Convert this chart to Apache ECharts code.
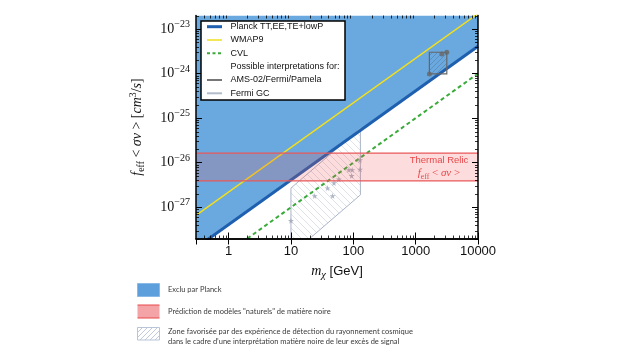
<!DOCTYPE html>
<html><head><meta charset="utf-8">
<script src="https://cdn.jsdelivr.net/npm/echarts@6/dist/echarts.min.js"></script>
<style>html,body{margin:0;padding:0;background:#fff}#c{width:622px;height:355px}</style>
</head><body><div id="c"></div>
<script>
// ---- data ----
const xRange = [0.3, 10000];
const yRange = [2e-28, 2e-23];
const planckLine = [[0.3, 1.23e-28], [10000, 4.1e-24]];
const wmap9Line = [[0.3, 6.6e-28], [10000, 2.2e-23]];
const cvlLine = [[0.3, 3.0e-29], [10000, 1.0e-24]];
const thermalBand = [3.9e-27, 1.65e-26];
const amsBox = [[1660, 3.0e-24], [3160, 3.0e-24], [3160, 9.8e-25], [1660, 9.8e-25]];
const amsPoints = [[2630, 2.75e-24], [3160, 3.0e-24], [1660, 9.8e-25]];
const fermiGCRegion = [[10, 2e-28], [10, 2.7e-27], [130, 5.9e-26], [130, 1.9e-27], [20, 2e-28]];
const fermiGCStars = [[10, 5.0e-28], [24, 1.8e-27], [38.6, 2.7e-27], [46.5, 1.8e-27], [49, 3.5e-27],
  [58.6, 4.25e-27], [85, 6.9e-27], [96, 6.9e-27], [94, 5.1e-27], [128, 1.15e-26], [128, 7.1e-27]];
const xMinorTicks = [0.4,0.5,0.6,0.7,0.8,0.9,2,3,4,5,6,7,8,9,20,30,40,50,60,70,80,90,
  200,300,400,500,600,700,800,900,2000,3000,4000,5000,6000,7000,8000,9000];
const yMinorTicks = [];
[-28,-27,-26,-25,-24,-23].forEach(e => { for (let k = 2; k <= 9; k++) yMinorTicks.push(k * Math.pow(10, e)); });

// ---- helpers ----
function hatch(color, dir, s, lw, bg) {
  const c = document.createElement('canvas'); c.width = s; c.height = s;
  const g = c.getContext('2d');
  if (bg) { g.fillStyle = bg; g.fillRect(0, 0, s, s); }
  g.strokeStyle = color; g.lineWidth = lw; g.beginPath();
  if (dir === '/') {
    g.moveTo(0, s); g.lineTo(s, 0);
    g.moveTo(-s/2, s/2); g.lineTo(s/2, -s/2);
    g.moveTo(s/2, s*1.5); g.lineTo(s*1.5, s/2);
  } else {
    g.moveTo(0, 0); g.lineTo(s, s);
    g.moveTo(-s/2, s/2); g.lineTo(s/2, s*1.5);
    g.moveTo(s/2, -s/2); g.lineTo(s*1.5, s/2);
  }
  g.stroke(); return c;
}
const gcHatch = hatch('rgba(160,170,190,0.45)', '\\', 7, 0.8);
const amsHatch = hatch('rgba(70,80,100,0.35)', '/', 5, 0.8);
const legHatch = hatch('#b9c4d8', '/', 5, 0.9, '#fff');
const serif = 'Liberation Serif';
const sans = 'Liberation Sans';
const mathRich = (fs) => ({
  i: {fontFamily: serif, fontStyle: 'italic', fontSize: fs, lineHeight: fs + 4},
  n: {fontFamily: serif, fontSize: fs, lineHeight: fs + 4},
  g: {fontFamily: sans, fontSize: fs - 1, lineHeight: fs + 4},
  sub: {fontFamily: serif, fontSize: fs * 0.7, lineHeight: fs * 0.6, verticalAlign: 'bottom'},
  subi: {fontFamily: serif, fontStyle: 'italic', fontSize: fs * 0.75, lineHeight: fs * 0.6, verticalAlign: 'bottom'},
  sup: {fontFamily: serif, fontSize: fs * 0.7, lineHeight: fs * 0.6, verticalAlign: 'top'}
});

const chart = echarts.init(document.getElementById('c'), null, {renderer: 'canvas'});
const axBase = {type: 'log', logBase: 10, z: 20,
  axisLine: {show: true, lineStyle: {color: '#000', width: 1.5}},
  axisTick: {show: true, inside: true, length: 6, lineStyle: {color: '#000', width: 1}},
  splitLine: {show: false}, minorTick: {show: false}};

const option = {
  animation: false,
  backgroundColor: '#fff',
  grid: {left: 196, right: 144, top: 15.5, bottom: 116.5, containLabel: false, outerBoundsMode: 'none'},
  xAxis: [
    Object.assign({}, axBase, {position: 'bottom', min: xRange[0], max: xRange[1],
      axisLabel: {show: true, showMinLabel: false, showMaxLabel: true, margin: 6,
        fontFamily: sans, fontSize: 13, color: '#111', formatter: v => String(Math.round(v))},
      name: '{i|m}{subi|χ}{g| [GeV]}', nameLocation: 'middle', nameGap: 24,
      nameTextStyle: {color: '#111', rich: mathRich(14)}}),
    Object.assign({}, axBase, {position: 'top', min: xRange[0], max: xRange[1], axisLabel: {show: false}})
  ],
  yAxis: [
    Object.assign({}, axBase, {position: 'left', min: yRange[0], max: yRange[1],
      axisLabel: {show: true, showMinLabel: false, showMaxLabel: false, margin: 6, color: '#111',
        formatter: v => '{b|10}{s|−' + (-Math.round(Math.log10(v))) + '}',
        rich: {b: {fontFamily: serif, fontSize: 14, lineHeight: 19},
               s: {fontFamily: serif, fontSize: 10, lineHeight: 10, verticalAlign: 'top'}}},
      name: '{i|f}{sub|eff}{n| < }{i|σv}{n| > [}{i|cm}{sup|3}{n|/}{i|s}{n|]}',
      nameLocation: 'middle', nameRotate: 90, nameGap: 50,
      nameTextStyle: {color: '#111', rich: mathRich(14)}}),
    Object.assign({}, axBase, {position: 'right', min: yRange[0], max: yRange[1], axisLabel: {show: false}})
  ],
  series: [
    {name: 'Planck region', type: 'custom', z: 1, clip: true, data: [planckLine[0]],
      renderItem: (p, api) => ({type: 'polygon',
        shape: {points: [planckLine[0], planckLine[1], [planckLine[1][0], yRange[1]], [planckLine[0][0], yRange[1]]].map(q => api.coord(q))},
        style: {fill: '#69a9df'}})},
    {name: 'Fermi GC', type: 'custom', z: 2, clip: true, data: [fermiGCRegion[1]],
      renderItem: (p, api) => ({type: 'polygon', shape: {points: fermiGCRegion.map(q => api.coord(q))},
        style: {fill: {image: gcHatch, repeat: 'repeat'}, stroke: '#aab5c8', lineWidth: 1}})},
    {name: 'Planck', type: 'line', data: planckLine, showSymbol: false, z: 3, clip: true,
      lineStyle: {color: '#1f5fb0', width: 3}},
    {name: 'WMAP9', type: 'line', data: wmap9Line, showSymbol: false, z: 3, clip: true,
      lineStyle: {color: '#f2de1c', width: 1.5}},
    {name: 'CVL', type: 'line', data: cvlLine, showSymbol: false, z: 3, clip: true,
      lineStyle: {color: '#3aaa3a', width: 2, type: [4, 3]}},
    {name: 'GC stars', type: 'scatter', data: fermiGCStars, z: 4,
      symbol: 'path://M50,0 L61,35 L98,35 L68,57 L79,91 L50,70 L21,91 L32,57 L2,35 L39,35 Z',
      symbolSize: 6, itemStyle: {color: '#9aa3b6'}},
    {name: 'AMS', type: 'custom', z: 4, clip: true, data: [amsBox[0]],
      renderItem: (p, api) => ({type: 'polygon', shape: {points: amsBox.map(q => api.coord(q))},
        style: {fill: {image: amsHatch, repeat: 'repeat'}, stroke: '#666', lineWidth: 1.2}})},
    {name: 'AMS pts', type: 'scatter', data: amsPoints, z: 5, symbol: 'circle', symbolSize: 5,
      itemStyle: {color: '#666'}},
    {name: 'Thermal', type: 'custom', z: 6, clip: true, data: [[xRange[0], thermalBand[1]]],
      renderItem: (p, api) => {
        const a = api.coord([xRange[0], thermalBand[1]]), b = api.coord([xRange[1], thermalBand[0]]);
        return {type: 'group', children: [
          {type: 'rect', shape: {x: a[0], y: a[1], width: b[0] - a[0], height: b[1] - a[1]},
            style: {fill: 'rgba(238,80,80,0.2)'}},
          {type: 'line', shape: {x1: a[0], y1: a[1], x2: b[0], y2: a[1]}, style: {stroke: '#e8585a', lineWidth: 1.2}},
          {type: 'line', shape: {x1: a[0], y1: b[1], x2: b[0], y2: b[1]}, style: {stroke: '#e8585a', lineWidth: 1.2}}
        ]};
      }},
    {name: 'minor', type: 'custom', z: 21, silent: true, clip: false, data: [[1, 1e-26]],
      renderItem: (p, api) => {
        const cs = p.coordSys, ch = [];
        const L = (x1, y1, x2, y2) => ch.push({type: 'line', shape: {x1, y1, x2, y2}, style: {stroke: '#000', lineWidth: 0.8}});
        xMinorTicks.forEach(v => { const x = Math.round(api.coord([v, yRange[0]])[0]) + 0.5;
          L(x, cs.y + cs.height, x, cs.y + cs.height - 3); L(x, cs.y, x, cs.y + 3); });
        yMinorTicks.forEach(v => { if (v < yRange[0] || v > yRange[1]) return;
          const y = Math.round(api.coord([1, v])[1]) + 0.5;
          L(cs.x, y, cs.x + 3, y); L(cs.x + cs.width, y, cs.x + cs.width - 3, y); });
        return {type: 'group', children: ch};
      }}
  ],
  graphic: [
    {type: 'rect', z: 100, shape: {x: 201, y: 21, width: 144, height: 79}, style: {fill: '#fff', stroke: '#000', lineWidth: 1.5}},
    {type: 'line', z: 101, shape: {x1: 207, y1: 26.7, x2: 222, y2: 26.7}, style: {stroke: '#1f5fb0', lineWidth: 3}},
    {type: 'line', z: 101, shape: {x1: 207, y1: 40, x2: 222, y2: 40}, style: {stroke: '#f2de1c', lineWidth: 1.5}},
    {type: 'line', z: 101, shape: {x1: 207, y1: 53.3, x2: 222, y2: 53.3}, style: {stroke: '#3aaa3a', lineWidth: 2, lineDash: [3, 2.5]}},
    {type: 'line', z: 101, shape: {x1: 207, y1: 80, x2: 222, y2: 80}, style: {stroke: '#777', lineWidth: 2}},
    {type: 'line', z: 101, shape: {x1: 207, y1: 93.3, x2: 222, y2: 93.3}, style: {stroke: '#b3bccb', lineWidth: 2}},
    ...[['Planck TT,EE,TE+lowP', 26.7], ['WMAP9', 40], ['CVL', 53.3], ['Possible interpretations for:', 66.7],
        ['AMS-02/Fermi/Pamela', 80], ['Fermi GC', 93.3]].map(([t, y]) => ({type: 'text', z: 101, x: 230.5, y: y,
      style: {text: t, fill: '#111', font: '9px "Liberation Sans"', textVerticalAlign: 'middle', verticalAlign: 'middle'}})),
    {type: 'text', z: 101, x: 439, y: 160, style: {text: 'Thermal Relic', fill: '#e8484a', font: '9.5px "Liberation Sans"',
      align: 'center', verticalAlign: 'middle', textAlign: 'center', textVerticalAlign: 'middle'}},
    {type: 'text', z: 101, x: 439, y: 173, style: {text: '{i|f}{sub|eff}{n| < }{i|σv}{n| >}', fill: '#e8484a',
      align: 'center', verticalAlign: 'middle', rich: mathRich(11)}},
    {type: 'rect', z: 101, shape: {x: 137.5, y: 283.5, width: 22, height: 13}, style: {fill: '#5d9fdc', stroke: '#8ab9e6', lineWidth: 1}},
    {type: 'rect', z: 101, shape: {x: 137.5, y: 305, width: 22, height: 13}, style: {fill: '#f4a4a6'}},
    {type: 'line', z: 102, shape: {x1: 137.5, y1: 305, x2: 159.5, y2: 305}, style: {stroke: '#e8484a', lineWidth: 1}},
    {type: 'line', z: 102, shape: {x1: 137.5, y1: 318, x2: 159.5, y2: 318}, style: {stroke: '#e8484a', lineWidth: 1}},
    {type: 'rect', z: 101, shape: {x: 137.5, y: 327.5, width: 22, height: 12.5}, style: {fill: {image: legHatch, repeat: 'repeat'}, stroke: '#b9c4d8', lineWidth: 1}},
    ...[['Exclu par Planck', 290], ['Prédiction de modèles "naturels" de matière noire', 311.5],
        ['Zone favorisée par des expérience de détection du rayonnement cosmique', 331.5],
        ['dans le cadre d\u2019une interprétation matière noire de leur excès de signal', 341.5]].map(([t, y]) => ({
      type: 'text', z: 101, x: 168, y: y, style: {text: t, fill: '#3a3a3a', font: '7.5px Lato', verticalAlign: 'middle', textVerticalAlign: 'middle'}}))
  ]
};
chart.setOption(option);
</script></body></html>
